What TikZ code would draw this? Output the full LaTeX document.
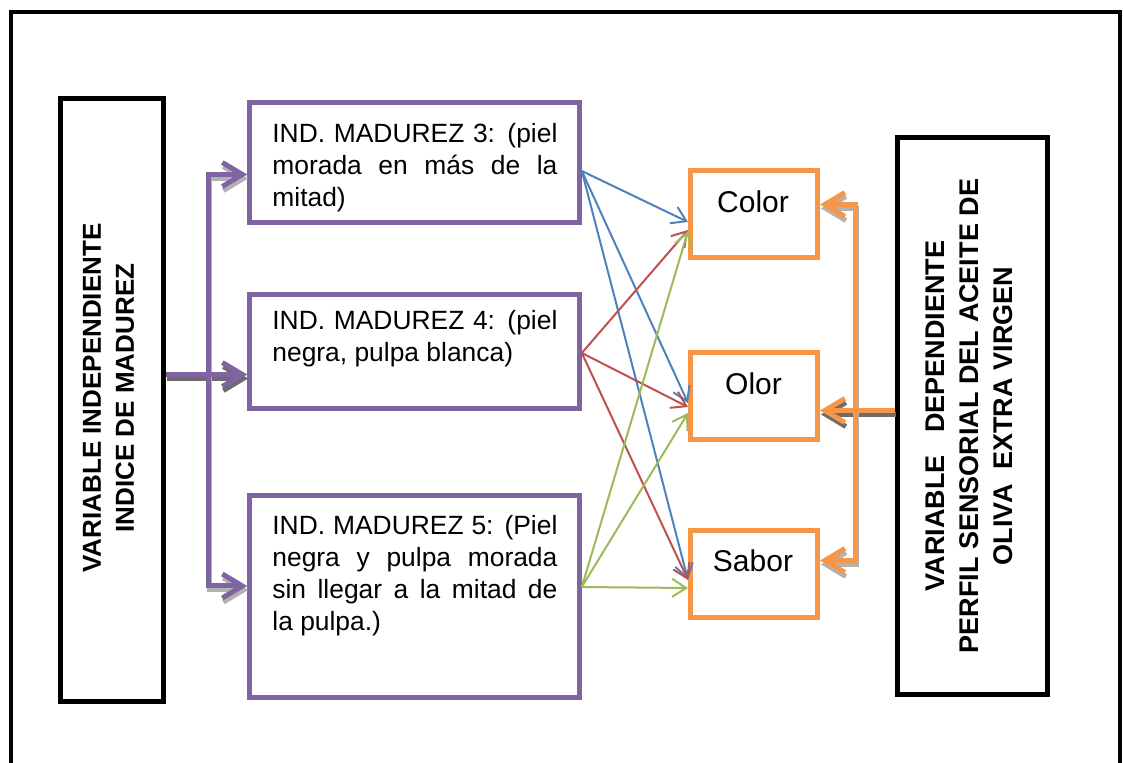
\documentclass[tikz,border=0pt]{standalone}
\usepackage{fontspec}
\setmainfont{Liberation Sans}
\usetikzlibrary{arrows.meta}
\definecolor{mpurple}{HTML}{8064A2}
\definecolor{morange}{HTML}{F79646}
\definecolor{mblue}{HTML}{4F81BD}
\definecolor{mred}{HTML}{C0504D}
\definecolor{mgreen}{HTML}{9BBB59}
\begin{document}
\begin{tikzpicture}[x=0.5pt,y=-0.5pt,
  varbox/.style={draw, line width=2.5pt, inner sep=0pt},
  indbox/.style={draw=mpurple, line width=2.3pt, minimum width=165pt, inner sep=0pt},
  sensbox/.style={draw=morange, line width=2.5pt, minimum width=63.5pt, minimum height=43.5pt, inner sep=0pt},
  indtext/.style={anchor=north west, text width=142.5pt, align=justify, inner sep=0pt, font=\fontsize{13.2}{16}\selectfont},
  senstext/.style={inner sep=0pt, font=\fontsize{15}{18}\selectfont},
  vartext/.style={rotate=90, align=center, inner sep=0pt, font=\fontsize{13}{16.5}\selectfont\bfseries},
  bigarrow/.style={line width=2.5pt, -{Straight Barb[length=10pt,width=12pt]}},
  shadowarrow/.style={bigarrow, draw=gray!60, transform canvas={xshift=0.5pt,yshift=-2pt}},
  thinarrow/.style={line width=1pt, -{Straight Barb[length=7pt,width=9pt]}}
]
\useasboundingbox (0,0) rectangle (1123,763);
\draw[line width=2.2pt] (10.8,763) -- (10.8,12) -- (1120,12) -- (1120,763);
\node[varbox, minimum width=51.25pt, minimum height=301.25pt] (vind) at (112,400){};
\node[vartext] (vindtxt) at (108.5,398){VARIABLE INDEPENDIENTE\\INDICE DE MADUREZ};
\node[varbox, minimum width=75pt, minimum height=278.5pt] (vdep) at (972.5,416){};
\node[vartext, font=\fontsize{13.5}{17}\selectfont\bfseries] (vdeptxt) at (969,416){VARIABLE\ \ \ DEPENDIENTE\\PERFIL SENSORIAL DEL ACEITE DE\\OLIVA\ \ EXTRA VIRGEN};
\node[indbox, minimum height=60pt] (mad3) at (414.5,162.5){};
\node[indbox, minimum height=57pt] (mad4) at (414.5,351.5){};
\node[indbox, minimum height=101pt] (mad5) at (414.5,596.5){};
\node[indtext] (mad3txt) at (272,123){IND. MADUREZ 3: (piel\linebreak morada en más de la\linebreak mitad)};
\node[indtext] (mad4txt) at (272,310){IND. MADUREZ 4: (piel\linebreak negra, pulpa blanca)};
\node[indtext] (mad5txt) at (272,515){IND. MADUREZ 5: (Piel\linebreak negra y pulpa morada\linebreak sin llegar a la mitad de\linebreak la pulpa.)};
\node[sensbox] (color) at (754,214){};
\node[sensbox] (olor) at (754,396){};
\node[sensbox] (sabor) at (754,574){};
\node[senstext] (colortxt) at (753,202){Color};
\node[senstext] (olortxt) at (753.5,384){Olor};
\node[senstext] (sabortxt) at (753,561){Sabor};
\coordinate (pj) at (208,374.5);
\coordinate (p3) at (208,174.5);
\coordinate (p5) at (208,586);
\coordinate (oj) at (855.5,410.5);
\coordinate (o1) at (855.5,204.5);
\coordinate (o3) at (855.5,560.5);
\draw[shadowarrow, draw=gray!85!black] (vind.east |- pj) -- (mad4.west |- pj);
\draw[shadowarrow] (pj) -- (p3) -- (mad3.west |- p3);
\draw[shadowarrow] (pj) -- (p5) -- (mad5.west |- p5);
\draw[shadowarrow, draw=gray!85!black] (vdep.west |- oj) -- (olor.east |- oj);
\draw[shadowarrow] (oj) -- (o1) -- (color.east |- o1);
\draw[shadowarrow] (oj) -- (o3) -- (sabor.east |- o3);
\draw[bigarrow, mpurple] (vind.east |- pj) -- (mad4.west |- pj);
\draw[bigarrow, mpurple] (pj) -- (p3) -- (mad3.west |- p3);
\draw[bigarrow, mpurple] (pj) -- (p5) -- (mad5.west |- p5);
\draw[bigarrow, morange] (vdep.west |- oj) -- (olor.east |- oj);
\draw[bigarrow, morange] (oj) -- (o1) -- (color.east |- o1);
\draw[bigarrow, morange] (oj) -- (o3) -- (sabor.east |- o3);
\draw[thinarrow, mblue] ([yshift=-4.25pt]mad3.east) -- ([yshift=-4pt]color.west);
\draw[thinarrow, mblue] ([yshift=-4.25pt]mad3.east) -- ([yshift=-3.5pt]olor.west);
\draw[thinarrow, mblue] ([yshift=-4.25pt]mad3.east) -- ([yshift=-3pt]sabor.west);
\draw[thinarrow, mred] ([yshift=-0.75pt]mad4.east) -- ([yshift=-8pt]color.west);
\draw[thinarrow, mred] ([yshift=-0.75pt]mad4.east) -- ([yshift=-5.5pt]olor.west);
\draw[thinarrow, mred] ([yshift=-0.75pt]mad4.east) -- ([yshift=-3pt]sabor.west);
\draw[thinarrow, mgreen] ([yshift=4.75pt]mad5.east) -- ([yshift=-8.5pt]color.west);
\draw[thinarrow, mgreen] ([yshift=4.75pt]mad5.east) -- ([yshift=-8.5pt]olor.west);
\draw[thinarrow, mgreen] ([yshift=4.75pt]mad5.east) -- ([yshift=-7pt]sabor.west);
\end{tikzpicture}
\end{document}
